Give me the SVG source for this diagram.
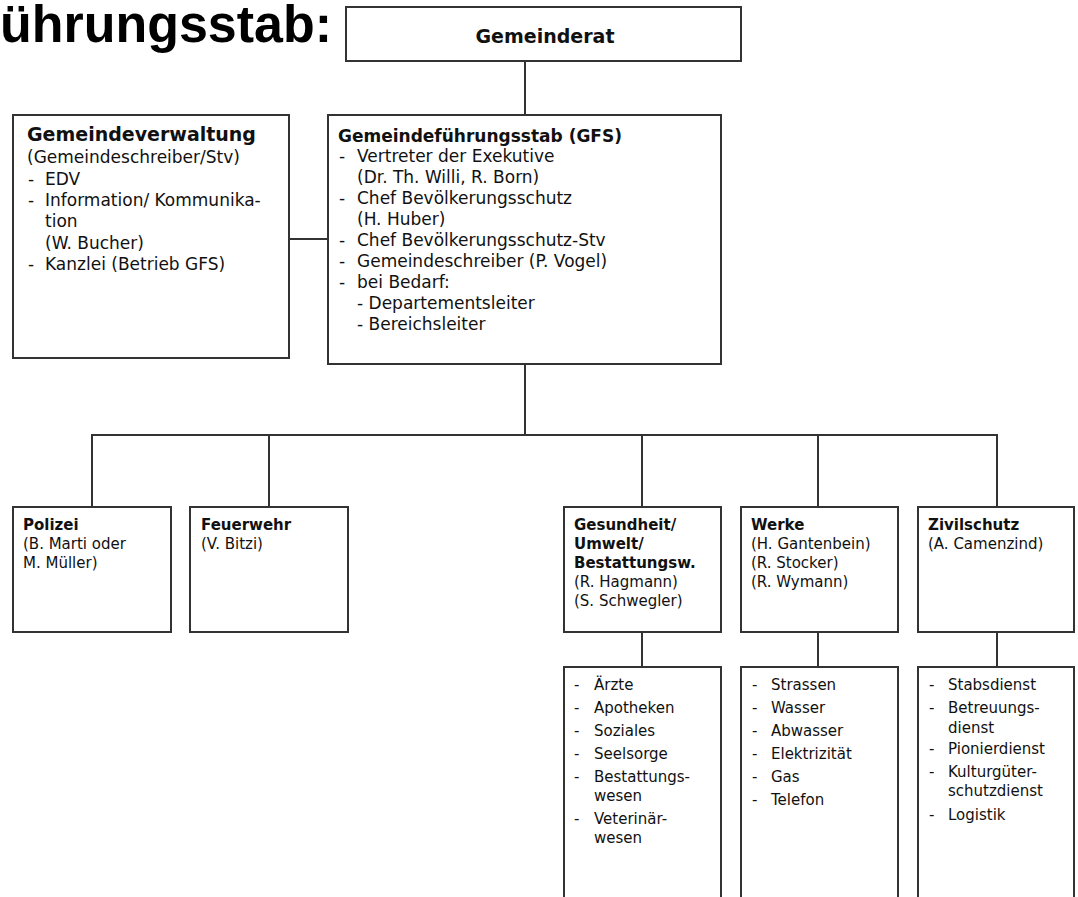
<svg xmlns="http://www.w3.org/2000/svg" width="1078" height="897" viewBox="0 0 1078 897">
<style>
.box{fill:#fff;stroke:#333;stroke-width:2}
.con{fill:none;stroke:#333;stroke-width:2}
text{font-family:"DejaVu Sans",Verdana,sans-serif;fill:#111}
.b{font-weight:bold}
.t17{font-size:17px}
.t15{font-size:15px}
.title{font-family:"Liberation Sans",Arial,sans-serif;font-weight:bold;font-size:51px;fill:#000}
</style>
<rect width="1078" height="897" fill="#fff"/>
<text class="title" x="0" y="42" textLength="332" lengthAdjust="spacingAndGlyphs">ührungsstab:</text>
<g id="connectors">
<line class="con" x1="525" y1="61" x2="525" y2="115"/>
<line class="con" x1="289" y1="239" x2="328" y2="239"/>
<line class="con" x1="525" y1="364" x2="525" y2="436"/>
<polyline class="con" points="92,507 92,435 997,435 997,507"/>
<line class="con" x1="269" y1="435" x2="269" y2="507"/>
<line class="con" x1="642" y1="435" x2="642" y2="507"/>
<line class="con" x1="818" y1="435" x2="818" y2="507"/>
<line class="con" x1="642" y1="632" x2="642" y2="667"/>
<line class="con" x1="818" y1="632" x2="818" y2="667"/>
<line class="con" x1="997" y1="632" x2="997" y2="667"/>
</g>
<g id="gemeinderat">
<rect class="box" x="346" y="7" width="395" height="54"/>
<text class="b" x="545" y="43" font-size="19" text-anchor="middle">Gemeinderat</text>
</g>
<g id="gemeindeverwaltung">
<rect class="box" x="13" y="115" width="276" height="243"/>
<text class="b" x="27" y="141" font-size="19">Gemeindeverwaltung</text>
<g class="t17">
<text x="27" y="163">(Gemeindeschreiber/Stv)</text>
<text x="28" y="184.5">-</text><text x="45" y="184.5">EDV</text>
<text x="28" y="206">-</text><text x="45" y="206">Information/ Kommunika-</text>
<text x="45" y="227">tion</text>
<text x="45" y="248.5">(W. Bucher)</text>
<text x="28" y="270">-</text><text x="45" y="270">Kanzlei (Betrieb GFS)</text>
</g>
</g>
<g id="gfs">
<rect class="box" x="328" y="115" width="393" height="249"/>
<text class="b t17" x="338" y="142">Gemeindeführungsstab (GFS)</text>
<g class="t17">
<text x="339" y="162">-</text><text x="357" y="162">Vertreter der Exekutive</text>
<text x="357" y="183">(Dr. Th. Willi, R. Born)</text>
<text x="339" y="204">-</text><text x="357" y="204">Chef Bevölkerungsschutz</text>
<text x="357" y="225">(H. Huber)</text>
<text x="339" y="246">-</text><text x="357" y="246">Chef Bevölkerungsschutz-Stv</text>
<text x="339" y="267">-</text><text x="357" y="267">Gemeindeschreiber (P. Vogel)</text>
<text x="339" y="288">-</text><text x="357" y="288">bei Bedarf:</text>
<text x="357" y="309">- Departementsleiter</text>
<text x="357" y="330">- Bereichsleiter</text>
</g>
</g>
<g id="polizei">
<rect class="box" x="13" y="507" width="158" height="125"/>
<g class="t15">
<text class="b" x="23" y="530">Polizei</text>
<text x="23" y="549">(B. Marti oder</text>
<text x="23" y="568">M. Müller)</text>
</g>
</g>
<g id="feuerwehr">
<rect class="box" x="190" y="507" width="158" height="125"/>
<g class="t15">
<text class="b" x="201" y="530">Feuerwehr</text>
<text x="201" y="549">(V. Bitzi)</text>
</g>
</g>
<g id="gesundheit">
<rect class="box" x="564" y="507" width="157" height="125"/>
<g class="t15">
<text class="b" x="574" y="530">Gesundheit/</text>
<text class="b" x="574" y="549">Umwelt/</text>
<text class="b" x="574" y="568">Bestattungsw.</text>
<text x="574" y="587">(R. Hagmann)</text>
<text x="574" y="606">(S. Schwegler)</text>
</g>
</g>
<g id="werke">
<rect class="box" x="741" y="507" width="157" height="125"/>
<g class="t15">
<text class="b" x="751" y="530">Werke</text>
<text x="751" y="549">(H. Gantenbein)</text>
<text x="751" y="568">(R. Stocker)</text>
<text x="751" y="587">(R. Wymann)</text>
</g>
</g>
<g id="zivilschutz">
<rect class="box" x="918" y="507" width="156" height="125"/>
<g class="t15">
<text class="b" x="928" y="530">Zivilschutz</text>
<text x="928" y="549">(A. Camenzind)</text>
</g>
</g>
<g id="gesundheit-liste">
<rect class="box" x="564" y="667" width="157" height="250"/>
<g class="t15">
<text x="574" y="690">-</text><text x="594" y="690">Ärzte</text>
<text x="574" y="713">-</text><text x="594" y="713">Apotheken</text>
<text x="574" y="736">-</text><text x="594" y="736">Soziales</text>
<text x="574" y="759">-</text><text x="594" y="759">Seelsorge</text>
<text x="574" y="782">-</text><text x="594" y="782">Bestattungs-</text>
<text x="594" y="801">wesen</text>
<text x="574" y="824">-</text><text x="594" y="824">Veterinär-</text>
<text x="594" y="843">wesen</text>
</g>
</g>
<g id="werke-liste">
<rect class="box" x="741" y="667" width="157" height="250"/>
<g class="t15">
<text x="752" y="690">-</text><text x="771" y="690">Strassen</text>
<text x="752" y="713">-</text><text x="771" y="713">Wasser</text>
<text x="752" y="736">-</text><text x="771" y="736">Abwasser</text>
<text x="752" y="759">-</text><text x="771" y="759">Elektrizität</text>
<text x="752" y="782">-</text><text x="771" y="782">Gas</text>
<text x="752" y="805">-</text><text x="771" y="805">Telefon</text>
</g>
</g>
<g id="zivilschutz-liste">
<rect class="box" x="918" y="667" width="156" height="250"/>
<g class="t15">
<text x="929" y="690">-</text><text x="948" y="690">Stabsdienst</text>
<text x="929" y="713">-</text><text x="948" y="713">Betreuungs-</text>
<text x="948" y="733">dienst</text>
<text x="929" y="754">-</text><text x="948" y="754">Pionierdienst</text>
<text x="929" y="777">-</text><text x="948" y="777">Kulturgüter-</text>
<text x="948" y="796">schutzdienst</text>
<text x="929" y="820">-</text><text x="948" y="820">Logistik</text>
</g>
</g>
</svg>
